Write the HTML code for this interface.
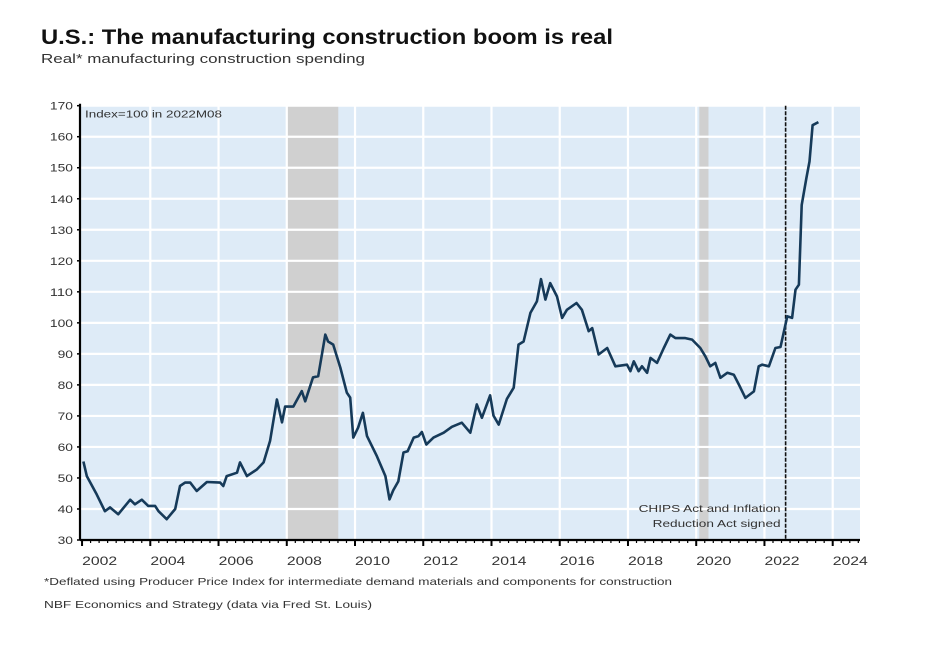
<!DOCTYPE html>
<html><head><meta charset="utf-8"><style>
body{margin:0;background:#fff;width:928px;height:650px;overflow:hidden;font-family:"Liberation Sans",Arial,sans-serif}
svg{position:absolute;left:0;top:0}
</style></head><body>
<svg width="928" height="650" id="chart">
<text x="41" y="44" font-size="21" font-weight="bold" fill="#111" textLength="572" lengthAdjust="spacingAndGlyphs">U.S.: The manufacturing construction boom is real</text>
<text x="41" y="63" font-size="13" fill="#333" textLength="324" lengthAdjust="spacingAndGlyphs">Real* manufacturing construction spending</text>
<g id="plot"></g>
<text x="44" y="585" font-size="10.5" fill="#333" textLength="628" lengthAdjust="spacingAndGlyphs">*Deflated using Producer Price Index for intermediate demand materials and components for construction</text>
<text x="44" y="608" font-size="10.5" fill="#333" textLength="328" lengthAdjust="spacingAndGlyphs">NBF Economics and Strategy (data via Fred St. Louis)</text>
</svg>
<script>
const years=[2002.04,2002.14,2002.43,2002.67,2002.82,2003.06,2003.41,2003.55,2003.75,2003.94,2004.14,2004.24,2004.48,2004.73,2004.87,2005.02,2005.17,2005.36,2005.66,2006.05,2006.14,2006.24,2006.54,2006.63,2006.83,2007.12,2007.32,2007.51,2007.71,2007.86,2007.95,2008.19,2008.44,2008.54,2008.77,2008.92,2009.13,2009.21,2009.36,2009.57,2009.76,2009.86,2009.95,2010.09,2010.23,2010.35,2010.64,2010.89,2011.01,2011.12,2011.27,2011.42,2011.54,2011.72,2011.86,2011.96,2012.09,2012.30,2012.60,2012.84,2013.13,2013.38,2013.57,2013.72,2013.96,2014.06,2014.21,2014.45,2014.65,2014.79,2014.94,2015.14,2015.33,2015.45,2015.58,2015.72,2015.92,2016.07,2016.21,2016.49,2016.65,2016.85,2016.95,2017.14,2017.39,2017.63,2017.97,2018.07,2018.17,2018.31,2018.41,2018.56,2018.66,2018.85,2019.05,2019.24,2019.39,2019.68,2019.88,2020.12,2020.27,2020.41,2020.56,2020.71,2020.91,2021.10,2021.25,2021.44,2021.69,2021.83,2021.93,2022.13,2022.32,2022.47,2022.67,2022.81,2022.91,2023.01,2023.09,2023.23,2023.32,2023.41,2023.58];
const values=[55.3,50.6,44.7,39.3,40.5,38.3,43,41.5,43,41,41,39.3,36.7,40,47.4,48.5,48.5,45.8,48.7,48.5,47.4,50.6,51.7,55,50.6,52.7,55,62,75.3,67.9,73,73,78,74.7,82.4,82.8,96.2,94,93,85.6,77.5,75.9,63,66.2,71,63.5,57,50.6,43.1,46,48.9,58.2,58.6,63,63.5,64.8,60.8,63,64.6,66.5,67.8,64.6,73.7,69.4,76.6,70.1,67.2,75.5,79.1,93,94,103.2,106.9,114.1,107.5,112.8,108.5,101.6,104.2,106.4,104.2,97.3,98.3,89.8,91.9,86,86.5,84.4,87.6,84.4,86,83.9,88.7,87.1,91.9,96.2,95.1,95.1,94.6,91.9,89.2,86,87.1,82.3,83.9,83.3,80.1,75.8,77.9,86,86.5,86,91.9,92.2,102.1,101.6,110.7,112.3,138,146.7,152,163.7,164.7];
const yTicks=[30,40,50,60,70,80,90,100,110,120,130,140,150,160,170];
const xTickYears=[2002,2004,2006,2008,2010,2012,2014,2016,2018,2020,2022,2024];
const recessions=[[2008.01,2009.51],[2020.09,2020.36]];
const eventYear=2022.62;

const L=80,R=860,T=105.7,B=540,X0=2001.94,X1=2024.8,Y0=30,Y1=170;
const xs=v=>L+(v-X0)/(X1-X0)*(R-L);
const ys=v=>B-(v-Y0)/(Y1-Y0)*(B-T);
const NS="http://www.w3.org/2000/svg";
const g=document.getElementById('plot');
function mk(tag,attrs,parent){const e=document.createElementNS(NS,tag);for(const k in attrs)e.setAttribute(k,attrs[k]);(parent||g).appendChild(e);return e;}

let e=mk('rect',{x:L,y:T,width:R-L,height:B-T,fill:'#deebf7'});


recessions.forEach(r=>{
 const s=mk('rect',{x:xs(r[0]),y:T,width:xs(r[1])-xs(r[0]),height:B-T,fill:'#d0d0d0'});
 
 
});
yTicks.forEach(t=>{
 if(t>Y0){const l=mk('line',{x1:L,x2:R,y1:ys(t),y2:ys(t),stroke:'#fff','stroke-width':2.2});
 
 }
 const tk=mk('line',{x1:L-3,x2:L,y1:ys(t),y2:ys(t),stroke:'#000','stroke-width':1.5});
 
 
 const s=String(t);
 const tx=mk('text',{x:L-7,y:ys(t)+4,'font-size':11,fill:'#333','text-anchor':'end',textLength:s.length*7.7,lengthAdjust:'spacingAndGlyphs'});
 tx.textContent=s;
 
 
});
xTickYears.forEach(yr=>{
 const x=xs(yr);
 if(yr>X0+0.1){const l=mk('line',{x1:x,x2:x,y1:T,y2:B,stroke:'#fff','stroke-width':2.2});
 
 }
 const tx=mk('text',{x:xs(yr+0.5)-17,y:B+25,'font-size':11.5,fill:'#333',textLength:35,lengthAdjust:'spacingAndGlyphs'});
 tx.textContent=yr;
 
 
});
for(let q=Math.ceil(X0*4);q<=X1*4;q++){
 const yr=q/4,x=xs(yr),major=(q%8===0);
 const tk=mk('line',{x1:x,x2:x,y1:B,y2:B+(major?6:3),stroke:'#000','stroke-width':major?2:1.2});
 
 
}
e=mk('line',{x1:xs(eventYear),x2:xs(eventYear),y1:T,y2:B,stroke:'#111','stroke-width':1.6,'stroke-dasharray':'4,1.5'});


const ev1=mk('text',{x:xs(eventYear)-147,y:512,'font-size':10.5,fill:'#333',textLength:142,lengthAdjust:'spacingAndGlyphs'});ev1.textContent='CHIPS Act and Inflation';


const ev2=mk('text',{x:xs(eventYear)-133,y:527,'font-size':10.5,fill:'#333',textLength:128,lengthAdjust:'spacingAndGlyphs'});ev2.textContent='Reduction Act signed';


const idx=mk('text',{x:L+5,y:T+12,'font-size':10,fill:'#333',textLength:137,lengthAdjust:'spacingAndGlyphs'});idx.textContent='Index=100 in 2022M08';


const d=years.map((y,i)=>(i?'L':'M')+xs(y).toFixed(1)+','+ys(values[i]).toFixed(1)).join('');
e=mk('path',{d:d,fill:'none',stroke:'#163a59','stroke-width':2.6,'stroke-linejoin':'round'});


e=mk('line',{x1:L,x2:L,y1:T-2,y2:B,stroke:'#000','stroke-width':2.2});


e=mk('line',{x1:L,x2:R,y1:B,y2:B,stroke:'#000','stroke-width':2.2});


</script>
</body></html>
